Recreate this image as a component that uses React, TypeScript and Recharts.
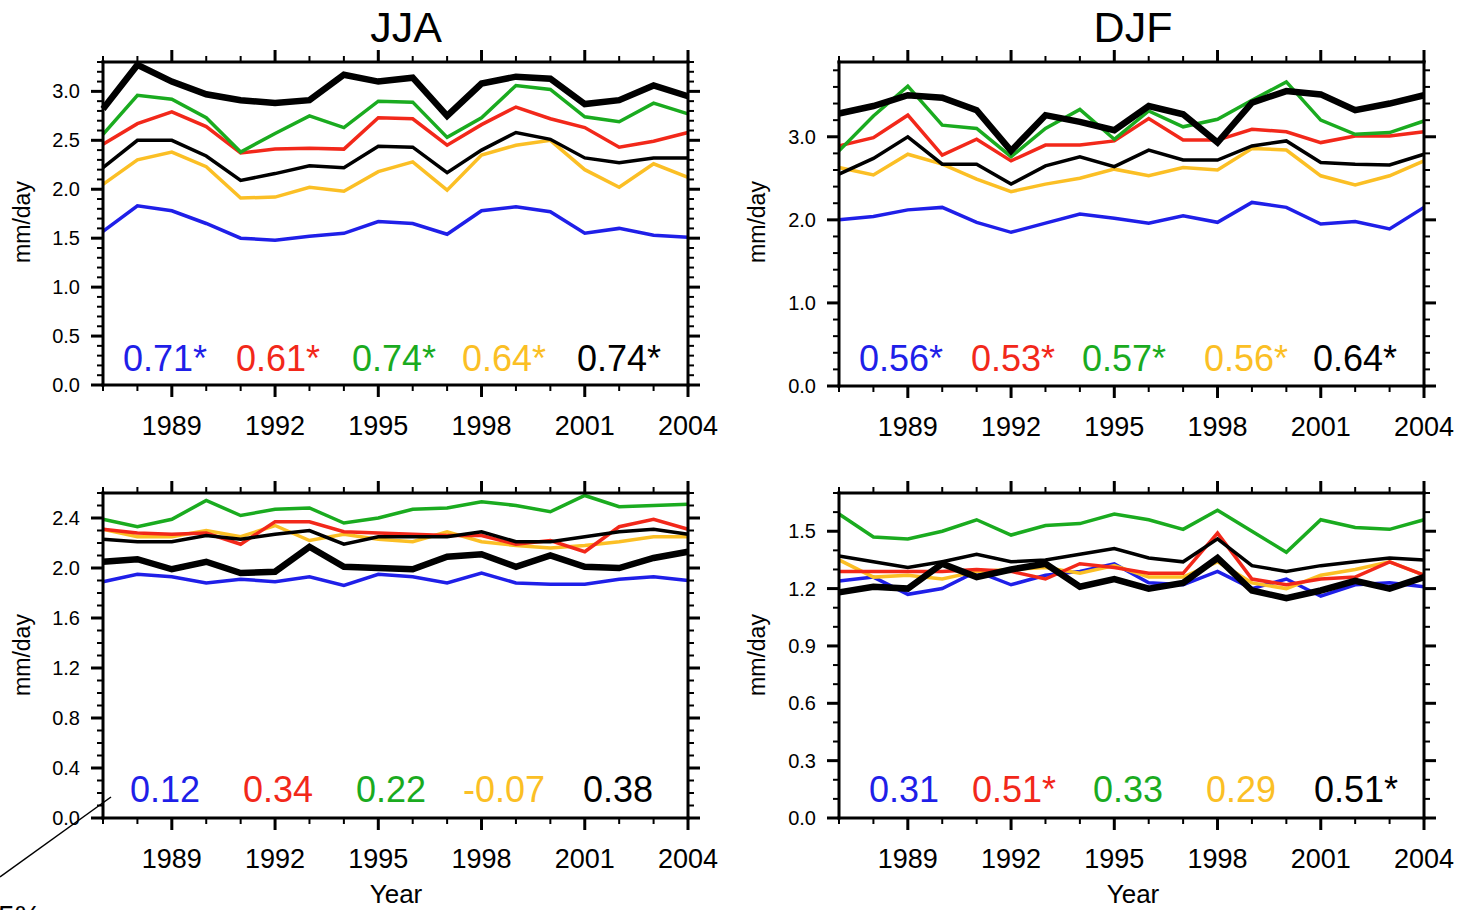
import React from 'react';
import { LineChart, Line, XAxis, YAxis } from 'recharts';

const FONT = '"Liberation Sans", Arial, Helvetica, sans-serif';

const years = [1987, 1988, 1989, 1990, 1991, 1992, 1993, 1994, 1995, 1996, 1997, 1998, 1999, 2000, 2001, 2002, 2003, 2004];
const majorYears = [1989, 1992, 1995, 1998, 2001, 2004];

// JJA top panel
const jjaTopBlue = [1.57, 1.83, 1.78, 1.65, 1.50, 1.48, 1.52, 1.55, 1.67, 1.65, 1.54, 1.78, 1.82, 1.77, 1.55, 1.60, 1.53, 1.51];
const jjaTopRed = [2.46, 2.67, 2.79, 2.64, 2.37, 2.41, 2.42, 2.41, 2.73, 2.72, 2.45, 2.66, 2.84, 2.72, 2.63, 2.43, 2.49, 2.58];
const jjaTopGreen = [2.56, 2.96, 2.92, 2.73, 2.38, 2.57, 2.75, 2.63, 2.90, 2.89, 2.53, 2.73, 3.06, 3.02, 2.74, 2.69, 2.88, 2.77];
const jjaTopYellow = [2.05, 2.30, 2.38, 2.23, 1.91, 1.92, 2.02, 1.98, 2.18, 2.28, 1.99, 2.35, 2.45, 2.50, 2.20, 2.02, 2.26, 2.12];
const jjaTopThin = [2.22, 2.50, 2.50, 2.34, 2.09, 2.16, 2.24, 2.22, 2.44, 2.43, 2.17, 2.40, 2.58, 2.51, 2.32, 2.27, 2.32, 2.32];
const jjaTopThick = [2.82, 3.27, 3.10, 2.97, 2.91, 2.88, 2.91, 3.17, 3.10, 3.14, 2.75, 3.08, 3.15, 3.13, 2.87, 2.91, 3.06, 2.95];

// DJF top panel
const djfTopBlue = [2.00, 2.04, 2.12, 2.15, 1.97, 1.85, 1.96, 2.07, 2.02, 1.96, 2.05, 1.97, 2.21, 2.15, 1.95, 1.98, 1.89, 2.15];
const djfTopRed = [2.89, 2.99, 3.26, 2.78, 2.97, 2.71, 2.90, 2.90, 2.95, 3.22, 2.96, 2.96, 3.09, 3.06, 2.93, 3.01, 3.01, 3.06];
const djfTopGreen = [2.83, 3.25, 3.61, 3.14, 3.10, 2.76, 3.10, 3.33, 2.97, 3.31, 3.12, 3.21, 3.44, 3.66, 3.20, 3.03, 3.05, 3.19];
const djfTopYellow = [2.63, 2.54, 2.79, 2.67, 2.49, 2.34, 2.43, 2.50, 2.61, 2.53, 2.63, 2.60, 2.86, 2.84, 2.53, 2.42, 2.53, 2.71];
const djfTopThin = [2.55, 2.74, 3.00, 2.67, 2.67, 2.43, 2.65, 2.76, 2.64, 2.84, 2.72, 2.72, 2.89, 2.95, 2.69, 2.67, 2.66, 2.79];
const djfTopThick = [3.28, 3.37, 3.50, 3.47, 3.32, 2.83, 3.26, 3.18, 3.08, 3.37, 3.27, 2.93, 3.41, 3.55, 3.51, 3.32, 3.40, 3.50];

// JJA bottom panel
const jjaBotBlue = [1.89, 1.95, 1.93, 1.88, 1.91, 1.89, 1.93, 1.86, 1.95, 1.93, 1.88, 1.96, 1.88, 1.87, 1.87, 1.91, 1.93, 1.90];
const jjaBotRed = [2.31, 2.28, 2.27, 2.28, 2.19, 2.37, 2.37, 2.29, 2.28, 2.27, 2.26, 2.26, 2.19, 2.22, 2.13, 2.33, 2.39, 2.31];
const jjaBotGreen = [2.39, 2.33, 2.39, 2.54, 2.42, 2.47, 2.48, 2.36, 2.40, 2.47, 2.48, 2.53, 2.50, 2.45, 2.58, 2.49, 2.50, 2.51];
const jjaBotYellow = [2.31, 2.25, 2.25, 2.30, 2.25, 2.34, 2.22, 2.27, 2.23, 2.21, 2.29, 2.21, 2.18, 2.16, 2.18, 2.21, 2.25, 2.25];
const jjaBotThin = [2.23, 2.21, 2.21, 2.26, 2.23, 2.27, 2.30, 2.19, 2.25, 2.25, 2.25, 2.29, 2.21, 2.21, 2.25, 2.29, 2.31, 2.27];
const jjaBotThick = [2.05, 2.07, 1.99, 2.05, 1.96, 1.97, 2.17, 2.01, 2.00, 1.99, 2.09, 2.11, 2.01, 2.10, 2.01, 2.00, 2.08, 2.13];

// DJF bottom panel
const djfBotBlue = [1.24, 1.26, 1.17, 1.20, 1.29, 1.22, 1.27, 1.29, 1.33, 1.23, 1.22, 1.29, 1.20, 1.25, 1.16, 1.22, 1.23, 1.21];
const djfBotRed = [1.29, 1.29, 1.29, 1.29, 1.30, 1.29, 1.25, 1.33, 1.31, 1.28, 1.28, 1.49, 1.25, 1.22, 1.25, 1.26, 1.34, 1.27];
const djfBotGreen = [1.59, 1.47, 1.46, 1.50, 1.56, 1.48, 1.53, 1.54, 1.59, 1.56, 1.51, 1.61, 1.50, 1.39, 1.56, 1.52, 1.51, 1.56];
const djfBotYellow = [1.35, 1.26, 1.27, 1.25, 1.29, 1.30, 1.31, 1.28, 1.32, 1.26, 1.26, 1.34, 1.23, 1.20, 1.27, 1.30, 1.34, 1.27];
const djfBotThin = [1.37, 1.34, 1.31, 1.34, 1.38, 1.34, 1.35, 1.38, 1.41, 1.36, 1.34, 1.46, 1.32, 1.29, 1.32, 1.34, 1.36, 1.35];
const djfBotThick = [1.18, 1.21, 1.20, 1.33, 1.26, 1.30, 1.33, 1.21, 1.25, 1.20, 1.23, 1.36, 1.19, 1.15, 1.19, 1.24, 1.20, 1.26];

// y ticks (minor + major)
const jjaTopTicks = [0, 0.1, 0.2, 0.3, 0.4, 0.5, 0.6, 0.7, 0.8, 0.9, 1.0, 1.1, 1.2, 1.3, 1.4, 1.5, 1.6, 1.7, 1.8, 1.9, 2.0, 2.1, 2.2, 2.3, 2.4, 2.5, 2.6, 2.7, 2.8, 2.9, 3.0, 3.1, 3.2, 3.3];
const jjaTopMajor = [0, 0.5, 1.0, 1.5, 2.0, 2.5, 3.0];
const djfTopTicks = [0, 0.2, 0.4, 0.6, 0.8, 1.0, 1.2, 1.4, 1.6, 1.8, 2.0, 2.2, 2.4, 2.6, 2.8, 3.0, 3.2, 3.4, 3.6, 3.8];
const djfTopMajor = [0, 1.0, 2.0, 3.0];
const jjaBotTicks = [0, 0.1, 0.2, 0.3, 0.4, 0.5, 0.6, 0.7, 0.8, 0.9, 1.0, 1.1, 1.2, 1.3, 1.4, 1.5, 1.6, 1.7, 1.8, 1.9, 2.0, 2.1, 2.2, 2.3, 2.4, 2.5, 2.6];
const jjaBotMajor = [0, 0.4, 0.8, 1.2, 1.6, 2.0, 2.4];
const djfBotTicks = [0, 0.1, 0.2, 0.3, 0.4, 0.5, 0.6, 0.7, 0.8, 0.9, 1.0, 1.1, 1.2, 1.3, 1.4, 1.5, 1.6, 1.7];
const djfBotMajor = [0, 0.3, 0.6, 0.9, 1.2, 1.5];

// correlation labels
const jjaTopCorr = ['0.71*', '0.61*', '0.74*', '0.64*', '0.74*'];
const djfTopCorr = ['0.56*', '0.53*', '0.57*', '0.56*', '0.64*'];
const jjaBotCorr = ['0.12', '0.34', '0.22', '-0.07', '0.38'];
const djfBotCorr = ['0.31', '0.51*', '0.33', '0.29', '0.51*'];

const COLORS = { blue: '#1f1fe8', red: '#f2281a', green: '#1aab1f', yellow: '#fbbf25', black: '#000000' };
const corrColors = [COLORS.blue, COLORS.red, COLORS.green, COLORS.yellow, COLORS.black];

function buildRows(b: number[], r: number[], g: number[], y: number[], thin: number[], thick: number[]) {
  return years.map((yr, i) => ({ year: yr, blue: b[i], red: r[i], green: g[i], yellow: y[i], thin: thin[i], thick: thick[i] }));
}

const isMajor = (v: number, majors: number[]) => majors.some((m) => Math.abs(m - v) < 1e-6);

const AXIS_LINE = { stroke: '#000', strokeWidth: 3, strokeLinecap: 'square' as const };

type PanelProps = {
  left: number; top: number; w: number; h: number;
  rows: any[]; domain: [number, number]; ticks: number[]; majors: number[]; labelFmt: (v: number) => string;
};

function Panel({ left, top, w, h, rows, domain, ticks, majors, labelFmt }: PanelProps) {
  const L = 80, T = 20, R = 45, B = 60;
  const bottomTick = (p: any) => {
    const major = majorYears.includes(p.payload.value);
    return (
      <g>
        <line x1={p.x} x2={p.x} y1={p.y} y2={p.y + (major ? 12 : 6)} stroke="#000" strokeWidth={major ? 3 : 2} />
        {major ? (
          <text x={p.x} y={p.y + 50} textAnchor="middle" fontSize={27} fontFamily={FONT} fill="#000">{p.payload.value}</text>
        ) : null}
      </g>
    );
  };
  const topTick = (p: any) => {
    const major = majorYears.includes(p.payload.value);
    return <line x1={p.x} x2={p.x} y1={p.y} y2={p.y - (major ? 12 : 6)} stroke="#000" strokeWidth={major ? 3 : 2} />;
  };
  const leftTick = (p: any) => {
    const major = isMajor(p.payload.value, majors);
    return (
      <g>
        <line x1={p.x} x2={p.x - (major ? 12 : 6)} y1={p.y} y2={p.y} stroke="#000" strokeWidth={major ? 3 : 2} />
        {major ? (
          <text x={p.x - 23} y={p.y + 7} textAnchor="end" fontSize={20} fontFamily={FONT} fill="#000">{labelFmt(p.payload.value)}</text>
        ) : null}
      </g>
    );
  };
  const rightTick = (p: any) => {
    const major = isMajor(p.payload.value, majors);
    return <line x1={p.x} x2={p.x + (major ? 12 : 6)} y1={p.y} y2={p.y} stroke="#000" strokeWidth={major ? 3 : 2} />;
  };
  return (
    <div style={{ position: 'absolute', left: left - L, top: top - T }}>
      <LineChart width={L + w + R} height={T + h + B} data={rows} margin={{ top: 0, right: 0, bottom: 0, left: 0 }}>
        <XAxis xAxisId="b" dataKey="year" type="number" domain={[1987, 2004]} ticks={years} interval={0}
          tickLine={false} tickSize={0} tickMargin={0} height={B} axisLine={AXIS_LINE} tick={bottomTick} />
        <XAxis xAxisId="t" orientation="top" dataKey="year" type="number" domain={[1987, 2004]} allowDataOverflow ticks={years} interval={0}
          tickLine={false} tickSize={0} tickMargin={0} height={T} axisLine={AXIS_LINE} tick={topTick} />
        <YAxis yAxisId="l" type="number" domain={domain} ticks={ticks} interval={0}
          tickLine={false} tickSize={0} tickMargin={0} width={L} axisLine={AXIS_LINE} tick={leftTick} />
        <YAxis yAxisId="r" orientation="right" type="number" domain={domain} allowDataOverflow ticks={ticks} interval={0}
          tickLine={false} tickSize={0} tickMargin={0} width={R} axisLine={AXIS_LINE} tick={rightTick} />
        <Line xAxisId="b" yAxisId="l" dataKey="blue" type="linear" stroke={COLORS.blue} strokeWidth={3.5} dot={false} isAnimationActive={false} />
        <Line xAxisId="b" yAxisId="l" dataKey="yellow" type="linear" stroke={COLORS.yellow} strokeWidth={3.5} dot={false} isAnimationActive={false} />
        <Line xAxisId="b" yAxisId="l" dataKey="red" type="linear" stroke={COLORS.red} strokeWidth={3.5} dot={false} isAnimationActive={false} />
        <Line xAxisId="b" yAxisId="l" dataKey="green" type="linear" stroke={COLORS.green} strokeWidth={3.5} dot={false} isAnimationActive={false} />
        <Line xAxisId="b" yAxisId="l" dataKey="thin" type="linear" stroke="#000" strokeWidth={3.5} dot={false} isAnimationActive={false} />
        <Line xAxisId="b" yAxisId="l" dataKey="thick" type="linear" stroke="#000" strokeWidth={6.5} dot={false} isAnimationActive={false} />
      </LineChart>
    </div>
  );
}

function CorrRow({ labels, xs, y }: { labels: string[]; xs: number[]; y: number }) {
  return (
    <>
      {labels.map((t, i) => (
        <text key={i} x={xs[i]} y={y} fontSize={36} fontFamily={FONT} fill={corrColors[i]}>{t}</text>
      ))}
    </>
  );
}

function VLabel({ x, y, text }: { x: number; y: number; text: string }) {
  return (
    <text transform={`translate(${x},${y}) rotate(-90)`} textAnchor="middle" fontSize={23} fontFamily={FONT} fill="#000">{text}</text>
  );
}

export default function App() {
  const f1 = (v: number) => v.toFixed(1);
  return (
    <div style={{ position: 'absolute', left: 0, top: 0, width: 1466, height: 910, overflow: 'hidden', background: '#fff' }}>
      <Panel left={103} top={62} w={585} h={323} rows={buildRows(jjaTopBlue, jjaTopRed, jjaTopGreen, jjaTopYellow, jjaTopThin, jjaTopThick)}
        domain={[0, 3.3]} ticks={jjaTopTicks} majors={jjaTopMajor} labelFmt={f1} />
      <Panel left={839} top={62} w={585} h={324} rows={buildRows(djfTopBlue, djfTopRed, djfTopGreen, djfTopYellow, djfTopThin, djfTopThick)}
        domain={[0, 3.9]} ticks={djfTopTicks} majors={djfTopMajor} labelFmt={f1} />
      <Panel left={103} top={493} w={585} h={325} rows={buildRows(jjaBotBlue, jjaBotRed, jjaBotGreen, jjaBotYellow, jjaBotThin, jjaBotThick)}
        domain={[0, 2.6]} ticks={jjaBotTicks} majors={jjaBotMajor} labelFmt={f1} />
      <Panel left={839} top={493} w={585} h={325} rows={buildRows(djfBotBlue, djfBotRed, djfBotGreen, djfBotYellow, djfBotThin, djfBotThick)}
        domain={[0, 1.7]} ticks={djfBotTicks} majors={djfBotMajor} labelFmt={f1} />
      <svg width={1466} height={910} style={{ position: 'absolute', left: 0, top: 0, pointerEvents: 'none' }}>
        <text x={406} y={42} textAnchor="middle" fontSize={43} fontFamily={FONT} fill="#000">JJA</text>
        <text x={1133} y={42} textAnchor="middle" fontSize={43} fontFamily={FONT} fill="#000">DJF</text>
        <VLabel x={30} y={222} text="mm/day" />
        <VLabel x={765} y={222} text="mm/day" />
        <VLabel x={30} y={655} text="mm/day" />
        <VLabel x={765} y={655} text="mm/day" />
        <text x={396} y={903} textAnchor="middle" fontSize={26} fontFamily={FONT} fill="#000">Year</text>
        <text x={1133} y={903} textAnchor="middle" fontSize={26} fontFamily={FONT} fill="#000">Year</text>
        <CorrRow labels={jjaTopCorr} xs={[123, 236, 352, 462, 577]} y={371} />
        <CorrRow labels={djfTopCorr} xs={[859, 971, 1082, 1204, 1313]} y={371} />
        <CorrRow labels={jjaBotCorr} xs={[130, 243, 356, 463, 583]} y={802} />
        <CorrRow labels={djfBotCorr} xs={[869, 972, 1093, 1206, 1314]} y={802} />
        <line x1={0} y1={877} x2={111} y2={797} stroke="#000" strokeWidth={1.5} />
        <text x={-2} y={926} fontSize={30} fontFamily={FONT} fill="#000">5%</text>
      </svg>
    </div>
  );
}
